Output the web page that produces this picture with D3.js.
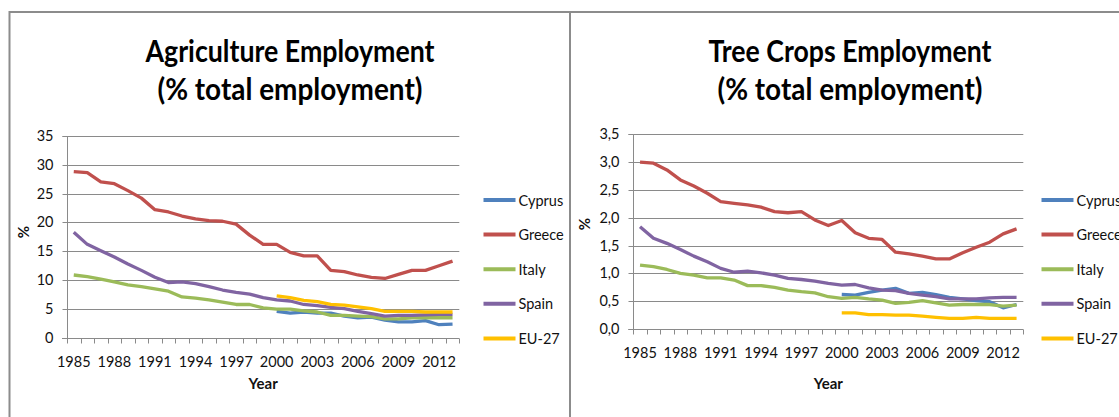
<!DOCTYPE html>
<html><head><meta charset="utf-8">
<script src="https://cdn.jsdelivr.net/npm/d3@7"></script>
<style>body{margin:0;background:#fff} svg{display:block;font-family:Lato,'Open Sans',sans-serif}</style>
</head><body><svg id="c" width="1119" height="417"></svg>
<script>
// ---- data ----
const years = [1985,1986,1987,1988,1989,1990,1991,1992,1993,1994,1995,1996,1997,1998,1999,
               2000,2001,2002,2003,2004,2005,2006,2007,2008,2009,2010,2011,2012,2013];
const xTickLabels = [1985,1988,1991,1994,1997,2000,2003,2006,2009,2012];
const seriesNames = ["Cyprus","Greece","Italy","Spain","EU-27"];
const seriesColors = ["#4F81BD","#C0504D","#9BBB59","#8064A2","#FFC000"];
const N = null;

const agriCyprus = [N,N,N,N,N,N,N,N,N,N,N,N,N,N,N, 4.6,4.3,4.5,4.3,4.3,3.8,3.5,3.6,3.1,2.8,2.8,3.0,2.3,2.4];
const agriGreece = [28.8,28.6,27.0,26.7,25.5,24.2,22.2,21.8,21.1,20.6,20.3,20.2,19.7,17.8,16.2, 16.2,14.8,14.2,14.2,11.7,11.5,10.9,10.5,10.3,11.0,11.7,11.7,12.5,13.3];
const agriItaly  = [10.9,10.6,10.2,9.7,9.2,8.9,8.5,8.1,7.1,6.9,6.6,6.2,5.8,5.8,5.2, 5.0,5.0,4.7,4.5,3.9,3.9,3.8,3.7,3.3,3.3,3.5,3.5,3.5,3.5];
const agriSpain  = [18.3,16.2,15.1,14.0,12.8,11.7,10.5,9.6,9.7,9.4,8.9,8.3,7.9,7.6,7.0, 6.6,6.4,5.8,5.6,5.3,5.1,4.6,4.2,3.8,3.9,3.9,4.0,4.1,4.1];
const agriEU27   = [N,N,N,N,N,N,N,N,N,N,N,N,N,N,N, 7.3,7.0,6.5,6.3,5.8,5.7,5.4,5.1,4.6,4.6,4.6,4.5,4.5,4.5];

const treeCyprus = [N,N,N,N,N,N,N,N,N,N,N,N,N,N,N, 0.62,0.61,0.66,0.70,0.73,0.64,0.66,0.62,0.57,0.54,0.51,0.49,0.38,0.44];
const treeGreece = [3.00,2.98,2.86,2.68,2.57,2.44,2.29,2.26,2.23,2.19,2.11,2.09,2.11,1.96,1.86, 1.95,1.73,1.63,1.61,1.38,1.35,1.31,1.26,1.26,1.37,1.47,1.56,1.71,1.80];
const treeItaly  = [1.15,1.12,1.07,1.00,0.97,0.92,0.92,0.88,0.78,0.78,0.75,0.70,0.67,0.65,0.58, 0.55,0.57,0.54,0.52,0.46,0.48,0.51,0.47,0.43,0.44,0.44,0.44,0.41,0.43];
const treeSpain  = [1.84,1.63,1.54,1.43,1.31,1.21,1.09,1.02,1.04,1.01,0.97,0.91,0.89,0.86,0.82, 0.79,0.80,0.74,0.70,0.69,0.64,0.61,0.58,0.54,0.54,0.54,0.56,0.57,0.57];
const treeEU27   = [N,N,N,N,N,N,N,N,N,N,N,N,N,N,N, 0.29,0.29,0.26,0.26,0.25,0.25,0.23,0.21,0.19,0.19,0.21,0.19,0.19,0.19];

const agriTicks = [0,5,10,15,20,25,30,35];
const treeTicks = [0,0.5,1.0,1.5,2.0,2.5,3.0,3.5];

// ---- drawing ----
const svg = d3.select("#c");
const frame = "#8c8c8c";
svg.append("line").attr("x1",9.5).attr("x2",1119).attr("y1",12).attr("y2",12).attr("stroke",frame).attr("stroke-width",2);
svg.append("line").attr("x1",9.5).attr("x2",9.5).attr("y1",11).attr("y2",417).attr("stroke",frame).attr("stroke-width",2);
svg.append("line").attr("x1",570).attr("x2",570).attr("y1",11).attr("y2",417).attr("stroke",frame).attr("stroke-width",2);

function chart(cfg){
  const g = svg.append("g");
  const x = d3.scaleBand().domain(years).range([cfg.x0, cfg.x1]);
  const y = d3.scaleLinear().domain([0, cfg.ymax]).range([cfg.y0, cfg.y1]);
  const gridc = "#8a8a8a";
  // gridlines
  g.append("g").selectAll("line").data(cfg.yTicks.slice(1)).join("line")
    .attr("x1", cfg.x0).attr("x2", cfg.x1)
    .attr("y1", d=>Math.round(y(d))+0.5).attr("y2", d=>Math.round(y(d))+0.5)
    .attr("stroke", gridc).attr("stroke-width",1);
  // y axis
  const ya = d3.axisLeft(y).tickValues(cfg.yTicks).tickSize(5).tickPadding(9).tickFormat(cfg.fmt);
  const yg = g.append("g").attr("transform",`translate(${Math.round(cfg.x0)+0.5},0)`).call(ya);
  yg.select(".domain").attr("stroke",gridc).attr("d",`M-5,${Math.round(cfg.y1)+0.5}H0V${Math.round(cfg.y0)+0.5}`);
  yg.selectAll(".tick").attr("transform",d=>`translate(0,${Math.round(y(d))+0.5})`);
  yg.selectAll(".tick line").attr("stroke",gridc);
  yg.selectAll(".tick text").attr("fill","#111").style("font-size","14.5px").style("font-family","Lato");
  // x axis line
  const ay = Math.round(cfg.y0)+0.5;
  g.append("line").attr("x1",cfg.x0-5).attr("x2",cfg.x1).attr("y1",ay).attr("y2",ay).attr("stroke",gridc);
  // boundary ticks
  const bounds = years.map(d=>x(d)).concat([cfg.x1]);
  g.append("g").selectAll("line").data(bounds).join("line")
    .attr("x1",d=>Math.round(d)+0.5).attr("x2",d=>Math.round(d)+0.5)
    .attr("y1",ay).attr("y2",ay+5).attr("stroke",gridc);
  // x labels
  g.append("g").selectAll("text").data(xTickLabels).join("text")
    .attr("x",d=>x(d)+x.bandwidth()/2).attr("y",cfg.y0+29)
    .attr("text-anchor","middle").attr("fill","#111")
    .style("font-size","14.5px").text(d=>d);
  // axis titles
  g.append("text").attr("x",(cfg.x0+cfg.x1)/2).attr("y",cfg.yearY).attr("text-anchor","middle")
    .style("font-weight","bold").style("font-size","15px").attr("fill","#111").text("Year");
  g.append("text").attr("transform",`translate(${cfg.pctX},${cfg.pctY}) rotate(-90)`)
    .attr("text-anchor","middle").attr("dy","0.35em")
    .style("font-weight","bold").style("font-size","15px").attr("fill","#111").text("%");
  // titles
  cfg.titles.forEach((t,i)=>{
    g.append("text").attr("x",cfg.tcx).attr("y",cfg.tBase[i]).attr("text-anchor","middle")
      .attr("textLength",t.w).attr("lengthAdjust","spacingAndGlyphs")
      .style("font-weight","bold").style("font-size","30px").attr("fill","#000").text(t.s);
  });
  // series
  const line = d3.line().defined(d=>d.v!=null).x(d=>x(d.yr)+x.bandwidth()/2).y(d=>y(d.v));
  cfg.series.forEach((s,i)=>{
    g.append("path").datum(years.map((yr,j)=>({yr, v:s[j]})))
      .attr("d",line).attr("fill","none").attr("stroke",seriesColors[i])
      .attr("stroke-width",3.3).attr("stroke-linejoin","round").attr("stroke-linecap","butt");
  });
  // legend
  const lg = g.append("g");
  seriesNames.forEach((n,i)=>{
    const ly = cfg.legY0 + i*34.6;
    lg.append("line").attr("x1",cfg.legX).attr("x2",cfg.legX+32).attr("y1",ly).attr("y2",ly)
      .attr("stroke",seriesColors[i]).attr("stroke-width",4);
    lg.append("text").attr("x",cfg.legX+35).attr("y",ly+5.5).attr("fill","#111")
      .style("font-size","14.5px").text(n);
  });
}

chart({x0:67, x1:459.3, y0:338, y1:135.7, ymax:35, yTicks:agriTicks, fmt:d3.format("d"),
  series:[agriCyprus,agriGreece,agriItaly,agriSpain,agriEU27],
  yearY:389, pctX:24, pctY:232,
  tcx:290, tBase:[62,100], titles:[{s:"Agriculture Employment",w:289},{s:"(% total employment)",w:265}],
  legX:483.5, legY0:200});

chart({x0:633.3, x1:1023.3, y0:329, y1:134.3, ymax:3.5, yTicks:treeTicks, fmt:d=>d3.format(".1f")(d).replace(".",","),
  series:[treeCyprus,treeGreece,treeItaly,treeSpain,treeEU27],
  yearY:389, pctX:585, pctY:224,
  tcx:850, tBase:[62,100], titles:[{s:"Tree Crops Employment",w:283},{s:"(% total employment)",w:265}],
  legX:1041.5, legY0:200});
</script></body></html>
